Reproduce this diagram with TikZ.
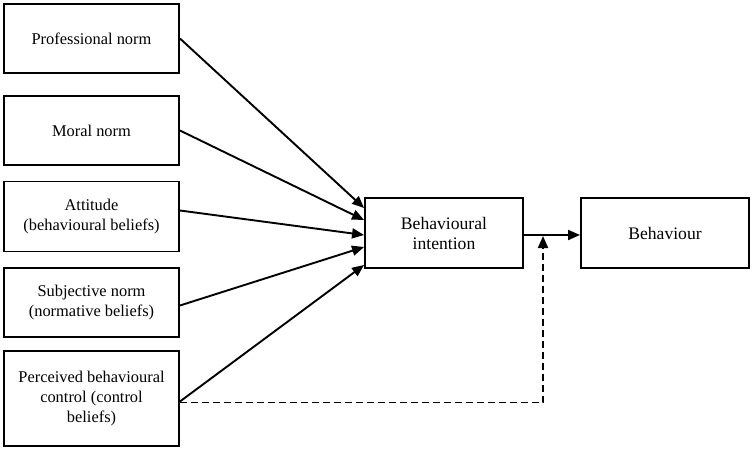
\documentclass[tikz,border=0pt]{standalone}
\usepackage{fontspec}
\setmainfont{Liberation Serif}
\usetikzlibrary{arrows.meta,calc}
\begin{document}
\begin{tikzpicture}[x=1pt,y=-1pt,
  lbox/.style={draw,line width=1.9pt,minimum width=175pt,align=center,inner sep=2pt,
    font=\fontsize{16.4}{20}\selectfont},
  cbox/.style={draw,line width=1.9pt,minimum height=70pt,align=center,inner sep=2pt,
    font=\fontsize{17.6}{20}\selectfont},
  arr/.style={line width=1.9pt,-{Triangle[length=12pt,width=10pt]}},
  darr/.style={line width=1.9pt,dash pattern=on 7pt off 4pt,-{Triangle[length=12pt,width=10pt]}}]
\useasboundingbox (0,0) rectangle (754,452);
\node[lbox,minimum height=69pt] (b1) at (91.5,38.5) {Professional norm};
\node[lbox,minimum height=69pt] (b2) at (91.5,130.5) {Moral norm};
\node[lbox,minimum height=70pt] (b3) at (91.5,216.5) {Attitude\\(behavioural beliefs)};
\node[lbox,minimum height=69pt] (b4) at (91.5,302.5) {Subjective norm\\(normative beliefs)};
\node[lbox,minimum height=95pt] (b5) at (91.5,398.5) {Perceived behavioural\\control (control\\beliefs)};
\node[cbox,minimum width=158pt] (ci) at (444,233) {Behavioural\\intention};
\node[cbox,minimum width=168pt] (bh) at (665,233) {Behaviour};
\draw[arr] (b1.east) -- ([yshift=25pt]ci.west);
\draw[arr] (b2.east) -- ([yshift=13pt]ci.west);
\draw[arr] ([yshift=6pt]b3.east) -- ([yshift=-2pt]ci.west);
\draw[arr] ([yshift=-3pt]b4.east) -- ([yshift=-14pt]ci.west);
\draw[arr] ([yshift=-3pt]b5.east) -- ([yshift=-32pt]ci.west);
\draw[arr] ([yshift=-2pt]ci.east) -- ([yshift=-2pt]bh.west);
\coordinate (j) at (543,236);
\draw[darr] ([yshift=-4pt]b5.east) -| (j);
\end{tikzpicture}
\end{document}
